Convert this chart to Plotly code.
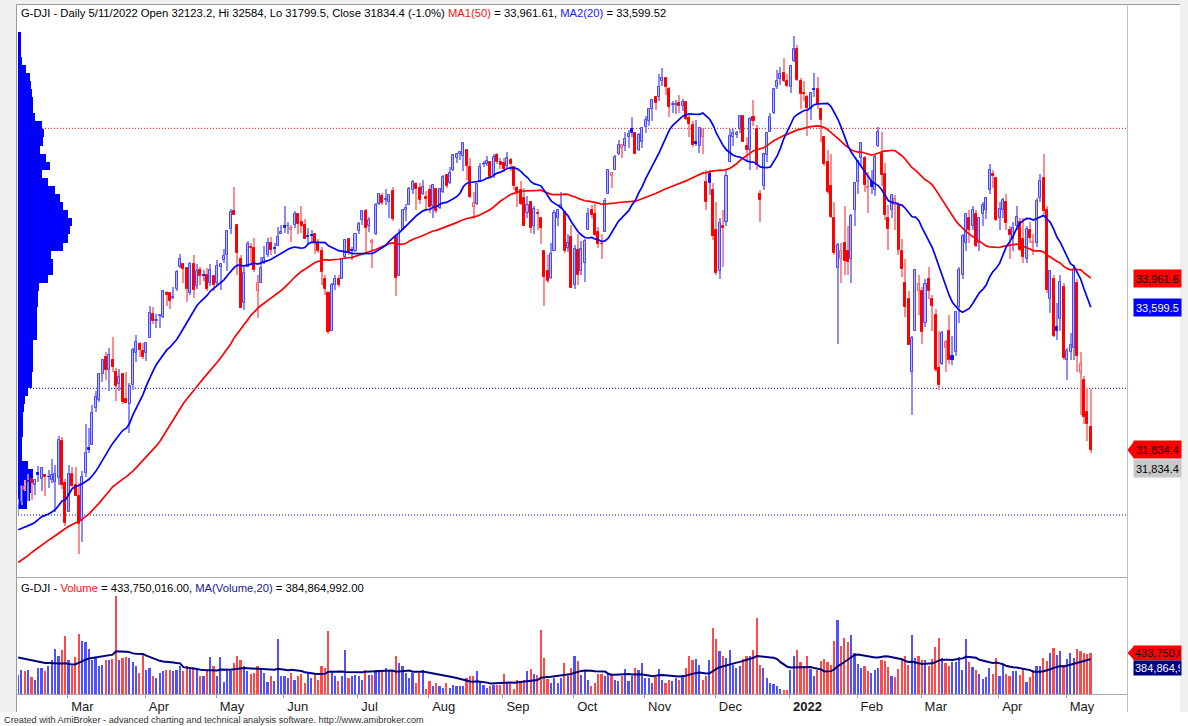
import plotly.graph_objects as go

W, H = 1188, 726

# ------------------------------------------------------------------ data
month_names = ["Feb", "Mar", "Apr", "May", "Jun", "Jul", "Aug", "Sep", "Oct",
               "Nov", "Dec", "2022", "Feb", "Mar", "Apr", "May"]
bars_per_month = [15, 23, 21, 20, 22, 21, 22, 21, 21, 21, 22, 20, 19, 23, 20, 8]

# closes before the first visible bar (only feed the moving averages)
warmup_close = [29591, 30046, 29872, 29910, 29639,
                29824, 29884, 29970, 30218, 30070, 30174, 30068, 29999, 30046, 29862,
                30200, 30155, 30304, 30180, 30216, 30016, 30129, 30200, 30404, 30336, 30409, 30606,
                30224, 30392, 30829, 31041, 31098, 30998, 31069, 31061, 30992, 30814,
                30931, 31188, 31177, 30997, 30960, 30937, 30303, 30603, 29983,
                30212, 30688, 30724, 31056]
warmup_volume_m = [420, 390, 400, 380, 410, 430, 410, 400, 380, 390, 430, 480, 460,
                   500, 480, 420, 380, 360, 350]

opens = (
    [31100, 31190, 31340, 31450, 31480, 31400, 31550, 31470, 31530, 31500, 31460, 31440, 31490, 31940, 31420]
    + [31070, 31540, 31400, 31260, 30950, 31550, 31860, 31900, 32350, 32450, 32780, 32980, 32820, 32950, 32800, 32650, 32770, 32460, 32400, 32640, 33040, 33150, 33060]
    + [33030, 33220, 33520, 33430, 33490, 33480, 33780, 33770, 33720, 33820, 34100, 34130, 34090, 33770, 34130, 33860, 34060, 34000, 34000, 33900, 33990]
    + [33900, 34100, 34180, 34250, 34570, 34790, 34620, 34200, 33650, 34100, 34350, 34330, 33800, 33900, 34150, 34250, 34400, 34330, 34360, 34500]
    + [34600, 34600, 34550, 34620, 34750, 34650, 34620, 34480, 34490, 34500, 34400, 34300, 33950, 33780, 33300, 33870, 33950, 33950, 34220, 34440, 34300, 34290]
    + [34540, 34680, 34790, 34600, 34400, 34500, 34880, 34980, 34930, 34900, 35040, 34470, 33990, 34560, 34800, 34860, 35050, 35130, 35080, 35000, 34960]
    + [35050, 34850, 35060, 34830, 35030, 35230, 35140, 35300, 35450, 35500, 35470, 35540, 35330, 34840, 34880, 35160, 35370, 35370, 35400, 35230, 35480, 35400]
    + [35380, 35350, 35420, 35340, 35080, 35050, 34950, 34770, 34900, 34600, 34760, 34700, 34300, 34050, 33960, 34300, 34700, 34830, 34780, 34330, 34470]
    + [33870, 34310, 34050, 34150, 34550, 34800, 34750, 34530, 34380, 34530, 35000, 35220, 35300, 35500, 35570, 35600, 35700, 35800, 35750, 35550, 35650]
    + [35830, 35900, 36050, 36200, 36200, 36400, 36440, 36300, 36100, 36100, 36130, 36090, 36140, 35940, 35850, 35640, 35600, 35700, 35150, 35250, 35050]
    + [34560, 34050, 34600, 34650, 35400, 35700, 35730, 35800, 35960, 35600, 35550, 35950, 35800, 35000, 35100, 35480, 35770, 36000, 36320, 36420, 36500, 36400]
    + [36320, 36640, 36800, 36400, 36250, 36200, 36050, 36300, 36300, 36050, 35700, 35400, 35100, 34700, 34090, 34200, 34400, 34300, 34200, 34800]
    + [35150, 35450, 35450, 35080, 35150, 35050, 35600, 35500, 35250, 34700, 34800, 34860, 34850, 34300, 33900, 33700, 32800, 33300, 33800]
    + [33800, 33400, 33950, 33700, 33500, 32850, 32900, 33100, 33300, 33000, 33050, 33600, 34000, 34400, 34700, 34600, 34750, 34400, 34750, 34800, 35050, 35250, 35200]
    + [34700, 34800, 34900, 34550, 34450, 34600, 34650, 34450, 34200, 34550, 34400, 34400, 34950, 35200, 34800, 33700, 33950, 33350, 33450, 33850]
    + [32950, 33050, 33100, 33900, 32790, 32700, 32300, 32123.2]
)
highs = (
    [31230, 31400, 31460, 31540, 31490, 31460, 31640, 31620, 31530, 31590, 31720, 31650, 32010, 31990, 31480]
    + [31650, 31620, 31620, 31420, 31580, 32150, 32100, 32390, 32560, 32790, 32960, 33050, 33100, 33230, 32850, 32830, 32780, 32800, 32660, 33090, 33260, 33170, 33160]
    + [33170, 33620, 33600, 33520, 33510, 33810, 33800, 33770, 33850, 34060, 34260, 34150, 34100, 34160, 34250, 34140, 34100, 34060, 34090, 34140, 33990]
    + [34190, 34140, 34320, 34550, 34810, 35091, 34630, 34240, 34100, 34420, 34400, 34460, 34000, 34220, 34360, 34460, 34470, 34400, 34590, 34620]
    + [34850, 34660, 34620, 34790, 34760, 34850, 34690, 34580, 34550, 34500, 34440, 34350, 34000, 33800, 33900, 34000, 34000, 34200, 34450, 34450, 34350, 34510]
    + [34650, 34790, 34810, 34720, 34440, 34890, 35000, 35010, 35060, 34990, 35090, 34470, 34570, 34810, 34880, 35090, 35170, 35150, 35140, 35170, 35040]
    + [35110, 35120, 35070, 35070, 35230, 35250, 35340, 35500, 35510, 35520, 35630, 35540, 35450, 35030, 35120, 35380, 35410, 35470, 35410, 35500, 35510, 35440]
    + [35440, 35520, 35450, 35350, 35100, 35160, 35070, 34970, 34900, 34850, 34820, 34710, 34300, 34240, 34400, 34800, 34820, 35020, 34780, 34510, 34620]
    + [34370, 34500, 34420, 34440, 34830, 34860, 34880, 34590, 34500, 34950, 35300, 35270, 35480, 35670, 35610, 35770, 35790, 35950, 35770, 35750, 35830]
    + [35970, 36070, 36180, 36200, 36480, 36560, 36450, 36320, 36150, 36160, 36230, 36170, 36150, 35980, 35900, 35910, 35830, 35820, 35300, 35300, 35140]
    + [34900, 34700, 34800, 35300, 35800, 35800, 35780, 35980, 35970, 35700, 35950, 36160, 35850, 35050, 35500, 35760, 36000, 36310, 36530, 36570, 36680, 36480]
    + [36600, 36953, 36850, 36430, 36400, 36220, 36260, 36500, 36450, 36060, 35700, 35550, 35500, 34900, 34400, 34400, 34850, 34600, 34750, 35150]
    + [35410, 35650, 35470, 35270, 35300, 35500, 35830, 35770, 35380, 34860, 35000, 34990, 34900, 34450, 34200, 33800, 33250, 34070, 34000]
    + [33850, 33950, 34100, 33750, 33580, 33300, 33300, 33200, 33500, 33250, 33550, 34100, 34500, 34760, 34800, 34850, 34800, 34720, 34900, 34960, 35370, 35300, 35200]
    + [34900, 34950, 35000, 34600, 34650, 34850, 34700, 34700, 34600, 34650, 34500, 34950, 35250, 35500, 34850, 34050, 34000, 33650, 34000, 33900]
    + [33100, 33280, 34120, 33950, 33050, 32750, 32600, 32584]
)
lows = (
    [31040, 31150, 31330, 31200, 31220, 31280, 31440, 31330, 31270, 31370, 31430, 31070, 31400, 31350, 30900]
    + [31070, 31380, 31260, 30547, 30700, 31500, 31800, 31900, 32300, 32430, 32680, 32700, 32560, 32800, 32440, 32570, 32400, 32410, 32050, 32580, 32920, 32980, 32960]
    + [32930, 33220, 33390, 33340, 33340, 33470, 33620, 33580, 33700, 33800, 34090, 33900, 33670, 33750, 33720, 33830, 33880, 33920, 33800, 33860, 33800]
    + [33880, 33810, 34150, 34050, 34500, 34740, 34000, 33600, 33560, 34100, 34150, 34040, 33470, 33900, 34130, 34220, 34250, 34260, 34360, 34500]
    + [34520, 34500, 34410, 34580, 34510, 34520, 34440, 34370, 34420, 34260, 34270, 33880, 33750, 33270, 33300, 33810, 33850, 33950, 34200, 34250, 34180, 34280]
    + [34500, 34620, 34280, 34530, 34080, 34490, 34860, 34860, 34860, 34700, 34670, 33740, 33990, 34560, 34670, 34860, 35000, 34800, 34880, 34990, 34800]
    + [34770, 34700, 34770, 34820, 35010, 35070, 35130, 35290, 35380, 35420, 35280, 35170, 34950, 34690, 34870, 35160, 35340, 35350, 35200, 35200, 35370, 35310]
    + [35270, 35320, 35280, 35050, 34840, 34870, 34600, 34700, 34520, 34500, 34550, 34380, 33610, 33900, 33950, 34290, 34610, 34810, 34270, 34280, 33840]
    + [33830, 33880, 34000, 33910, 34550, 34700, 34480, 34330, 34200, 34530, 35000, 35070, 35300, 35480, 35440, 35530, 35570, 35700, 35490, 35530, 35570]
    + [35760, 35840, 35900, 36040, 36150, 36340, 36230, 35950, 36000, 35990, 36000, 36030, 35910, 35710, 35580, 35600, 35510, 35500, 34800, 34990, 34430]
    + [34000, 33950, 34100, 34600, 35400, 35600, 35690, 35750, 35640, 35400, 35300, 35840, 35300, 34650, 35050, 35400, 35770, 35990, 36300, 36350, 36390, 36330]
    + [36250, 36630, 36400, 36050, 36150, 35720, 35920, 36200, 36050, 35640, 35350, 35000, 34700, 34250, 33150, 33900, 34000, 34000, 33900, 34600]
    + [35000, 35350, 35020, 34770, 35000, 34980, 35580, 35100, 34680, 34310, 34700, 34550, 34250, 33970, 33480, 33130, 32272, 33300, 33500]
    + [33150, 33350, 33700, 33300, 32800, 32580, 32880, 32800, 32900, 32880, 33000, 33400, 33950, 34300, 34400, 34550, 34350, 34300, 34600, 34690, 35000, 35080, 34670]
    + [34550, 34700, 34550, 34200, 34300, 34550, 34300, 34150, 34150, 34400, 34250, 34350, 34900, 34750, 33780, 33530, 33230, 33200, 33300, 32950]
    + [32700, 32950, 32950, 32800, 32270, 32150, 31950, 31799.5]
)
closes = (
    [31148, 31386, 31375, 31438, 31431, 31458, 31523, 31613, 31494, 31494, 31522, 31537, 31962, 31402, 30932]
    + [31535, 31391, 31270, 30924, 31496, 31802, 31833, 32297, 32485, 32779, 32953, 32826, 33015, 32862, 32628, 32732, 32423, 32420, 32620, 33073, 33171, 33067, 32982]
    + [33153, 33527, 33430, 33446, 33504, 33801, 33746, 33677, 33730, 34036, 34201, 34078, 33821, 34137, 33816, 34043, 33982, 33985, 33821, 34060, 33875]
    + [34113, 34133, 34230, 34548, 34778, 34743, 34270, 33587, 34022, 34382, 34327, 34061, 33896, 34084, 34208, 34394, 34313, 34323, 34465, 34529]
    + [34575, 34600, 34577, 34756, 34630, 34600, 34447, 34466, 34480, 34394, 34299, 34033, 33823, 33290, 33877, 33945, 33874, 34196, 34434, 34283, 34292, 34503]
    + [34634, 34786, 34577, 34681, 34422, 34870, 34997, 34889, 34933, 34987, 34688, 33962, 34512, 34798, 34823, 35062, 35144, 35058, 34931, 35085, 34935]
    + [34838, 35117, 34793, 35064, 35209, 35102, 35265, 35485, 35500, 35516, 35626, 35343, 34961, 34894, 35120, 35336, 35367, 35406, 35214, 35456, 35400, 35361]
    + [35313, 35444, 35369, 35100, 35031, 34879, 34608, 34870, 34578, 34814, 34751, 34584, 33970, 33919, 34258, 34765, 34798, 34870, 34300, 34391, 33844]
    + [34326, 34003, 34315, 34417, 34755, 34746, 34496, 34378, 34377, 34912, 35295, 35259, 35457, 35609, 35603, 35677, 35741, 35757, 35491, 35731, 35820]
    + [35913, 36053, 36158, 36124, 36328, 36432, 36320, 36080, 36100, 36100, 36087, 36143, 35931, 35871, 35602, 35619, 35814, 35804, 34899, 35136, 34484]
    + [34022, 34640, 34580, 35227, 35719, 35754, 35754, 35971, 35650, 35544, 35927, 35898, 35365, 34932, 35493, 35754, 35950, 36302, 36398, 36488, 36398, 36338]
    + [36585, 36800, 36408, 36236, 36232, 36068, 36252, 36290, 36114, 35912, 35369, 35029, 34715, 34265, 34365, 34298, 34168, 34160, 34725, 35132]
    + [35405, 35630, 35111, 35089, 35092, 35463, 35768, 35241, 34738, 34566, 34989, 34935, 34312, 34079, 33597, 33132, 33224, 34059, 33893]
    + [33295, 33892, 33795, 33615, 32818, 32633, 33286, 33174, 32944, 32945, 33545, 34063, 34481, 34755, 34553, 34808, 34359, 34708, 34862, 34956, 35294, 35228, 34678]
    + [34818, 34922, 34641, 34497, 34583, 34721, 34308, 34220, 34565, 34451, 34412, 34911, 35161, 34793, 33811, 34049, 33240, 33302, 33916, 32977]
    + [33061, 33129, 34061, 32998, 32899, 32246, 32161, 31834.4]
)
volumes_m = (
    [314, 343, 338, 343, 303, 285, 350, 352, 334, 365, 394, 457, 416, 452, 524]
    + [394, 361, 412, 538, 497, 492, 457, 397, 412, 361, 370, 394, 397, 401, 741, 397, 406, 412, 406, 386, 361, 325, 425]
    + [343, 352, 310, 298, 325, 334, 343, 343, 334, 343, 361, 334, 361, 352, 358, 343, 307, 310, 334, 412, 361]
    + [310, 412, 274, 334, 334, 379, 416, 394, 361, 334, 321, 325, 361, 343, 325, 278, 310, 280, 510, 310]
    + [310, 298, 325, 289, 307, 321, 271, 325, 298, 321, 289, 361, 352, 551, 335, 307, 280, 307, 452, 298, 307, 314]
    + [310, 289, 343, 316, 316, 343, 334, 343, 352, 343, 334, 415, 380, 361, 325, 298, 325, 271, 325, 343, 240]
    + [280, 253, 271, 253, 244, 271, 244, 262, 253, 253, 256, 298, 307, 307, 334, 280, 262, 244, 253, 262, 262, 262]
    + [321, 271, 271, 238, 289, 278, 289, 334, 348, 321, 316, 560, 406, 292, 271, 298, 271, 298, 379, 307, 352]
    + [416, 388, 316, 334, 289, 253, 271, 321, 321, 310, 321, 316, 289, 280, 307, 347, 280, 310, 352, 343, 379]
    + [298, 298, 271, 303, 347, 289, 271, 289, 280, 298, 289, 310, 352, 419, 394, 401, 370, 289, 310, 397, 569]
    + [509, 443, 419, 406, 452, 370, 352, 361, 401, 419, 416, 452, 624, 370, 352, 298, 271, 267, 256, 238, 231, 231]
    + [343, 419, 448, 383, 361, 416, 347, 310, 343, 388, 401, 383, 370, 497, 611, 473, 515, 492, 533, 431]
    + [376, 350, 365, 338, 325, 343, 350, 397, 388, 358, 310, 302, 347, 397, 416, 370, 533, 406, 419]
    + [397, 394, 365, 401, 466, 515, 406, 379, 361, 383, 383, 412, 339, 510, 383, 358, 343, 321, 292, 303, 352, 321, 406]
    + [310, 376, 321, 310, 334, 334, 316, 347, 274, 303, 343, 361, 365, 406, 388, 433, 461, 425, 443, 370]
    + [401, 433, 406, 455, 443, 433, 430, 433.750016]
)

# horizontal study lines
hline_levels = [35813, 32597, 31030]

# volume-at-price profile (left side): bin centre prices and relative volume (max = 100)
profile_price = [31150, 31250, 31350, 31450, 31550, 31650, 31750, 31850, 31950, 32050,
                 32150, 32250, 32350, 32450, 32550, 32650, 32750, 32850, 32950, 33050,
                 33150, 33250, 33350, 33450, 33550, 33650, 33750, 33850, 33950, 34050,
                 34150, 34250, 34350, 34450, 34550, 34650, 34750, 34850, 34950, 35050,
                 35150, 35250, 35350, 35450, 35550, 35650, 35750, 35850, 35950, 36050,
                 36150, 36250, 36350, 36450, 36550, 36650, 36750, 36850, 36950]
profile_rel = [17, 22, 28, 28, 28, 19, 7, 7, 7, 9,
               9, 9, 11, 13, 19, 26, 26, 28, 28, 28,
               28, 35, 35, 35, 35, 37, 37, 39, 56, 65,
               65, 61, 83, 93, 96, 100, 93, 83, 78, 69,
               56, 44, 59, 52, 41, 46, 48, 44, 31, 28,
               28, 26, 24, 22, 15, 7, 6, 6, 6]

title_text = ('G-DJI - Daily 5/11/2022 Open 32123.2, Hi 32584, Lo 31799.5, Close 31834.4 (-1.0%) '
              '<span style="color:#ff1010">MA1(50)</span> = 33,961.61, '
              '<span style="color:#2020ff">MA2(20)</span> = 33,599.52')
vol_title_text = ('G-DJI - <span style="color:#ff1010">Volume</span> = 433,750,016.00, '
                  '<span style="color:#202090">MA(Volume,20)</span> = 384,864,992.00')
footer_text = ('Created with AmiBroker - advanced charting and technical analysis software. '
               'http://www.amibroker.com')
ma50_label, ma20_label, close_label = "33,961.61", "33,599.52", "31,834.40"
vol_label, vma_label = "433,750,016", "384,864,992"

# ------------------------------------------------------------------ checks / derived
n = len(closes)
for name, arr in (("opens", opens), ("highs", highs), ("lows", lows), ("volumes", volumes_m)):
    if len(arr) != n:
        raise ValueError(f"{name} has {len(arr)} values, closes has {n}")
if sum(bars_per_month) != n:
    raise ValueError(f"bars_per_month sums to {sum(bars_per_month)}, closes has {n}")

idx = list(range(n))
volumes = [v * 1e6 for v in volumes_m]
warmup_volume = [v * 1e6 for v in warmup_volume_m]


def sma(vals, p):
    out = []
    for i in range(len(vals)):
        out.append(sum(vals[i + 1 - p:i + 1]) / p if i + 1 >= p else None)
    return out


all_close = warmup_close + closes
ma50 = sma(all_close, 50)[len(warmup_close):]
ma20 = sma(all_close, 20)[len(warmup_close):]
vma20 = sma(warmup_volume + volumes, 20)[len(warmup_volume):]

prev_close = [warmup_close[-1]] + closes[:-1]
is_up = [c >= p for c, p in zip(closes, prev_close)]

month_starts = []
s = 0
for b in bars_per_month:
    month_starts.append(s)
    s += b

# ------------------------------------------------------------------ geometry
X0, X1 = -0.06, 328.74            # bar-index range of the plot
PL, PR = 18, 1127                 # left / right pixel of the plot area
PX_PER_BAR = (PR - PL) / (X1 - X0)
PRICE_TOP, PRICE_BOT = 5, 577
VOL_TOP, VOL_BOT = 577, 694
PRICE_RANGE = [30263.0, 37338.6]
VOL_RANGE = [211e6, 846.3e6]
PRICE_PER_PX = (PRICE_RANGE[1] - PRICE_RANGE[0]) / (PRICE_BOT - PRICE_TOP)
VOL_PER_PX = (VOL_RANGE[1] - VOL_RANGE[0]) / (VOL_BOT - VOL_TOP)


def fx(px):
    return px / W


def fy(py):
    return 1 - py / H


FONT = "Liberation Sans, Arial, sans-serif"

# ------------------------------------------------------------------ colours
body_fill, body_line, wick_col, vol_col = [], [], [], []
for o, c, up in zip(opens, closes, is_up):
    if up:
        wick_col.append("#8c8cff")
        vol_col.append("#5050ff")
        if c >= o:
            body_fill.append("#b8b8ff"); body_line.append("#4646ff")
        else:
            body_fill.append("#1010ff"); body_line.append("#1010ff")
    else:
        wick_col.append("#ff8c8c")
        vol_col.append("#ff4848")
        if c < o:
            body_fill.append("#ff0000"); body_line.append("#ff0000")
        else:
            body_fill.append("#ffbcbc"); body_line.append("#ff5a5a")

fig = go.Figure()

# price profile (behind candles)
bar_per_rel = 54 / PX_PER_BAR / 100.0
fig.add_trace(go.Bar(
    orientation="h", y=profile_price, x=[r * bar_per_rel for r in profile_rel],
    base=X0, width=100, marker=dict(color="#0000ff", line=dict(width=0)),
    xaxis="x", yaxis="y", hoverinfo="skip", showlegend=False))

# wicks
fig.add_trace(go.Bar(
    x=idx, y=[h - l for h, l in zip(highs, lows)], base=lows, width=0.32,
    marker=dict(color=wick_col, line=dict(width=0)),
    xaxis="x", yaxis="y", hoverinfo="skip", showlegend=False))

# bodies
fig.add_trace(go.Bar(
    x=idx, y=[max(abs(c - o), 10) for o, c in zip(opens, closes)],
    base=[min(o, c) for o, c in zip(opens, closes)], width=0.6,
    marker=dict(color=body_fill, line=dict(color=body_line, width=1)),
    xaxis="x", yaxis="y", hoverinfo="skip", showlegend=False))

# moving averages
fig.add_trace(go.Scatter(x=idx, y=ma50, mode="lines", line=dict(color="#ff0000", width=1.7),
                         xaxis="x", yaxis="y", hoverinfo="skip", showlegend=False))
fig.add_trace(go.Scatter(x=idx, y=ma20, mode="lines", line=dict(color="#0000ff", width=1.7),
                         xaxis="x", yaxis="y", hoverinfo="skip", showlegend=False))

# volume
fig.add_trace(go.Bar(x=idx, y=volumes, width=0.5, marker=dict(color=vol_col, line=dict(width=0)),
                     xaxis="x2", yaxis="y2", hoverinfo="skip", showlegend=False))
fig.add_trace(go.Scatter(x=idx, y=vma20, mode="lines", line=dict(color="#000080", width=2),
                         xaxis="x2", yaxis="y2", hoverinfo="skip", showlegend=False))

# ------------------------------------------------------------------ shapes
shapes = []
# page chrome (light grey strips)
shapes.append(dict(type="rect", xref="paper", yref="paper", x0=0, x1=fx(16), y0=fy(712), y1=1,
                   fillcolor="#f0f0f0", line=dict(width=0), layer="below"))
shapes.append(dict(type="rect", xref="paper", yref="paper", x0=0, x1=1, y0=fy(4), y1=1,
                   fillcolor="#f0f0f0", line=dict(width=0), layer="below"))
shapes.append(dict(type="rect", xref="paper", yref="paper", x0=fx(1180), x1=1, y0=fy(712), y1=1,
                   fillcolor="#f0f0f0", line=dict(width=0), layer="below"))
# frame lines
for (x0, y0, x1, y1, col) in [(16.5, 4.5, 16.5, 712, "#9a9a9a"),
                               (16.5, 4.5, 1180, 4.5, "#9a9a9a"),
                               (1127.5, 4.5, 1127.5, 712, "#c0c0c0"),
                               (16.5, 577.5, 1127.5, 577.5, "#a8a8a8"),
                               (16.5, 694.5, 1127.5, 694.5, "#a8a8a8")]:
    shapes.append(dict(type="line", xref="paper", yref="paper", x0=fx(x0), x1=fx(x1),
                       y0=fy(y0), y1=fy(y1), line=dict(color=col, width=1), layer="above"))
# study lines
for lvl, col in zip(hline_levels, ["#ff0000", "#0000ff", "#0000ff"]):
    shapes.append(dict(type="line", xref="x domain", yref="y", x0=0, x1=1, y0=lvl, y1=lvl,
                       line=dict(color=col, width=1, dash="1px,2px"), layer="below"))
# arrow heads of the "last value" tags
c_last = closes[-1]
dy = 8.5 * PRICE_PER_PX
shapes.append(dict(type="path", xref="paper", yref="y",
                   path=f"M {fx(1127.5)} {c_last} L {fx(1134)} {c_last + dy} L {fx(1134)} {c_last - dy} Z",
                   fillcolor="#ff0000", line=dict(width=0), layer="above"))
v_last = volumes[-1]
dv = 7 * VOL_PER_PX
shapes.append(dict(type="path", xref="paper", yref="y2",
                   path=f"M {fx(1127.5)} {v_last} L {fx(1134)} {v_last + dv} L {fx(1134)} {v_last - dv} Z",
                   fillcolor="#ff0000", line=dict(width=0), layer="above"))

# ------------------------------------------------------------------ annotations
ann = []
ann.append(dict(text=title_text, xref="paper", yref="paper", x=fx(19), y=fy(13),
                xanchor="left", yanchor="middle", showarrow=False,
                font=dict(family=FONT, size=11.25, color="#000000")))
ann.append(dict(text=vol_title_text, xref="paper", yref="paper", x=fx(19), y=fy(588),
                xanchor="left", yanchor="middle", showarrow=False,
                font=dict(family=FONT, size=11.25, color="#000000")))
ann.append(dict(text=footer_text, xref="paper", yref="paper", x=fx(2), y=fy(720),
                xanchor="left", yanchor="middle", showarrow=False,
                font=dict(family=FONT, size=9.2, color="#303030")))


def tag(text, y, yref, bg, fg, shift=0, h=13, pad=2):
    return dict(text=text, xref="paper", yref=yref, x=fx(1133), y=y, xanchor="left",
                yanchor="middle", yshift=shift, showarrow=False, align="left",
                width=1180 - 1133 - 2 * pad, height=h, borderpad=pad, bgcolor=bg,
                font=dict(family=FONT, size=11, color=fg))


ann.append(tag(ma50_label, ma50[-1], "y", "#ff0000", "#000000"))
ann.append(tag(ma20_label, ma20[-1], "y", "#0000ff", "#ffffff"))
ann.append(tag(close_label, closes[-1], "y", "#ff0000", "#000000"))
ann.append(tag(close_label, closes[-1], "y", "#c8c8c8", "#000000", shift=-19))
ann.append(tag(vol_label, volumes[-1], "y2", "#ff0000", "#000000", h=12, pad=1))
ann.append(tag(vma_label, vma20[-1], "y2", "#000080", "#ffffff", shift=-9, h=12, pad=1))

# ------------------------------------------------------------------ axes / layout
tick_vals = [s - 0.3 for s in month_starts[1:]]
tick_text = [("<b>%s</b>" % m if m.isdigit() else m) for m in month_names[1:]]

fig.update_layout(
    width=W, height=H, margin=dict(l=0, r=0, t=0, b=0),
    paper_bgcolor="#ffffff", plot_bgcolor="rgba(0,0,0,0)",
    barmode="overlay", bargap=0, showlegend=False,
    font=dict(family=FONT, size=12, color="#000000"),
    shapes=shapes, annotations=ann,
    xaxis=dict(domain=[fx(PL), fx(PR)], range=[X0, X1], anchor="y", visible=False,
               showgrid=False, zeroline=False, fixedrange=True),
    yaxis=dict(domain=[fy(PRICE_BOT), fy(PRICE_TOP)], range=PRICE_RANGE, anchor="x",
               visible=False, showgrid=False, zeroline=False, fixedrange=True),
    xaxis2=dict(domain=[fx(PL), fx(PR)], range=[X0, X1], anchor="y2", matches="x",
                showgrid=False, zeroline=False, showline=False,
                tickmode="array", tickvals=tick_vals, ticktext=tick_text,
                ticks="outside", ticklen=3, tickcolor="#a0a0a0", tickwidth=1,
                ticklabelposition="outside right", ticklabelshift=3,
                tickfont=dict(family=FONT, size=13, color="#1a1a1a"), fixedrange=True),
    yaxis2=dict(domain=[fy(VOL_BOT), fy(VOL_TOP)], range=VOL_RANGE, anchor="x2",
                visible=False, showgrid=False, zeroline=False, fixedrange=True),
)

fig.write_html("out.html", config={"displayModeBar": False},
               post_script="document.body.style.margin='0';document.body.style.overflow='hidden';")
